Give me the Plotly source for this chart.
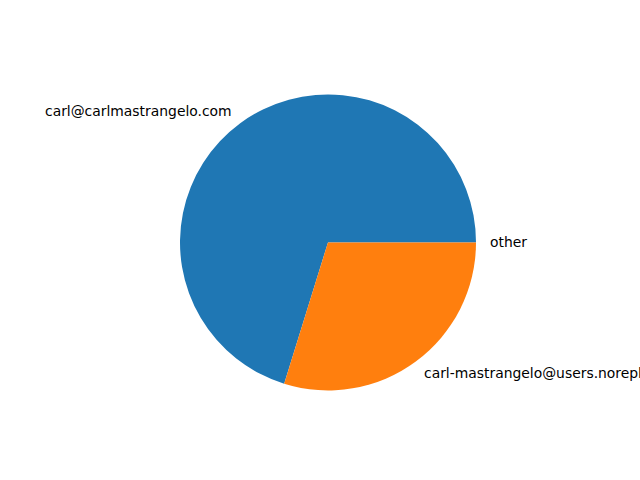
import math
import plotly.graph_objects as go

labels = ["carl@carlmastrangelo.com", "carl-mastrangelo@users.noreply.github.com", "other"]
values = [33, 14, 0]
colors = ["#1f77b4", "#ff7f0e", "#2ca02c"]

W, H = 640, 480
cx, cy, r = 328.0, 242.4, 148.0  # pixel geometry of pie

total = sum(values)
# plotly counterclockwise: first slice ends at `rotation`; make it start at 3 o'clock
rotation = 90 - 360.0 * values[0] / total

fig = go.Figure(go.Pie(
    labels=labels, values=values, sort=False, direction="counterclockwise",
    rotation=rotation, textinfo="none", hoverinfo="label+value",
    marker=dict(colors=colors, line=dict(width=0)),
    domain=dict(x=[(cx - r) / W, (cx + r) / W], y=[(H - cy - r) / H, (H - cy + r) / H]),
    showlegend=False,
))

start = 0.0
annotations = []
for lab, v in zip(labels, values):
    frac = v / total
    mid = (start + frac / 2) * 2 * math.pi
    start += frac
    right = math.cos(mid) >= 0
    x = cx + 1.1 * r * math.cos(mid) + (-0.5 if right else 1)
    y = cy - 1.1 * r * math.sin(mid)
    annotations.append(dict(
        x=x / W, y=1 - y / H, xref="paper", yref="paper", text=lab, showarrow=False,
        xanchor="left" if right else "right", yanchor="middle",
        borderpad=0, borderwidth=0,
        font=dict(family="DejaVu Sans", size=13.9, color="black"),
    ))

fig.update_layout(
    width=W, height=H, margin=dict(l=0, r=0, t=0, b=0),
    paper_bgcolor="white", plot_bgcolor="white",
    annotations=annotations,
)
fig.write_html("out.html")
